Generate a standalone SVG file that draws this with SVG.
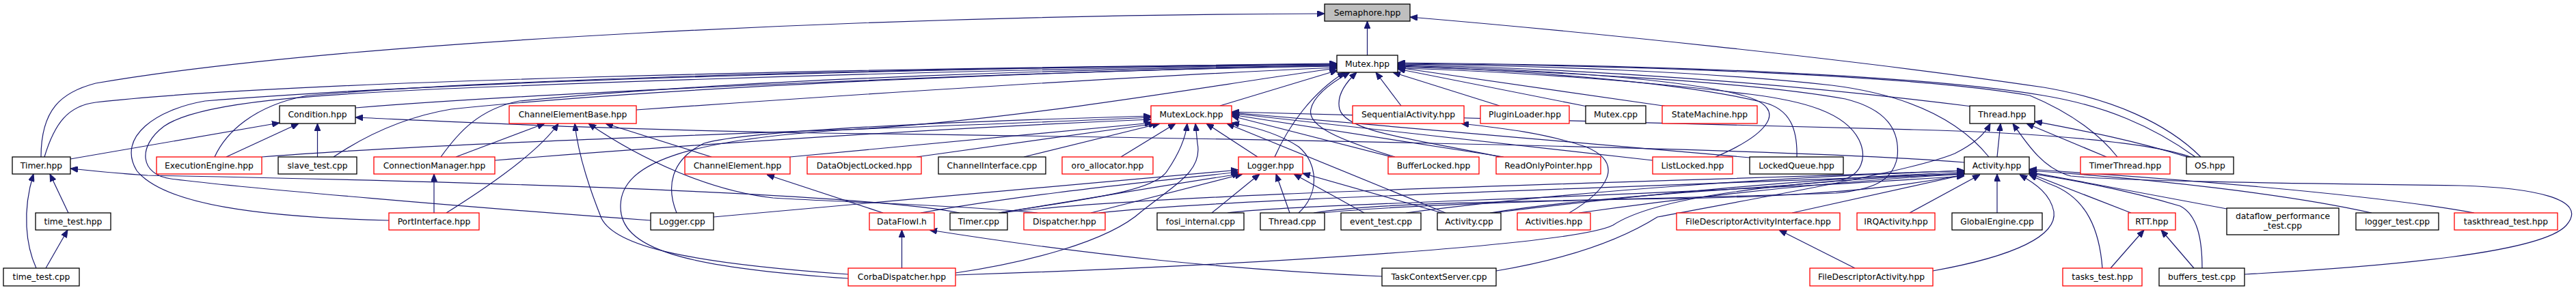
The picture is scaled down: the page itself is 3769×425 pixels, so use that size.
<svg xmlns="http://www.w3.org/2000/svg" width="3769" height="425" viewBox="0 0 3769 425">
<style>
.e path{fill:none;stroke:#191970;stroke-width:1.2;marker-end:url(#a)}
rect{fill:#fff;stroke:#000;stroke-width:1.3}
.r rect{stroke:#ff0000}
.g rect{fill:#bfbfbf}
text{font-family:"DejaVu Sans","Liberation Sans",sans-serif;font-size:12.3px;text-anchor:middle;fill:#000}
</style>
<defs>
<marker id="a" viewBox="0 0 11 9" refX="11" refY="4.5" markerWidth="11" markerHeight="9" markerUnits="userSpaceOnUse" orient="auto">
<path d="M0,0 L11,4.5 L0,9 z" fill="#191970" stroke="#191970" stroke-width="1"/>
</marker>
</defs>
<rect x="0" y="0" width="3769" height="425" style="fill:#fff;stroke:none"/>
<g id="edges" class="e">
<path d="M2000.5,81 L2000.5,31"/>
<path d="M60,230 C60,160 90,135 140,122 C500,60 1300,22 1938,20"/>
<path d="M3220,230 C3170,180 3090,145 2990,128 C2700,85 2300,45 2063,25"/>
<path d="M65,230 C80,180 100,155 140,150 C400,120 1200,100 1956,94"/>
<path d="M520,158 C800,135 1500,105 1956,96"/>
<path d="M314,230 C330,195 370,155 450,140 C800,110 1500,98 1956,95"/>
<path d="M488,230 C540,195 600,170 660,160 C1000,125 1600,102 1956,97"/>
<path d="M645,230 C670,195 700,160 760,148 C1100,115 1600,100 1956,96"/>
<path d="M569,323 C380,318 240,300 200,250 C170,200 230,160 300,148 C700,115 1500,98 1956,93"/>
<path d="M952,323 C700,305 350,275 250,262 C205,256 200,215 240,185 C290,150 450,138 700,128 C1200,108 1700,98 1956,94"/>
<path d="M931,161 C1300,135 1700,110 1956,99"/>
<path d="M1785,155 L1957,103"/>
<path d="M1865,230 C1885,185 1920,135 1968,106"/>
<path d="M2041,230 C1960,205 1912,185 1918,160 C1922,140 1950,120 1975,106"/>
<path d="M2195,230 C2080,205 1970,195 1960,160 C1955,140 1970,120 1985,106"/>
<path d="M2050,155 L2013,106"/>
<path d="M2194,155 L2038,106"/>
<path d="M2322,156 L2045,101"/>
<path d="M2440,156 L2045,99"/>
<path d="M2510,230 C2580,200 2625,160 2550,140 C2450,112 2200,100 2045,96"/>
<path d="M2629,230 C2630,190 2620,160 2580,150 C2450,118 2200,102 2045,97"/>
<path d="M2885,156 C2600,120 2300,100 2045,95"/>
<path d="M2910,230 C2870,180 2800,140 2680,125 C2500,105 2250,96 2045,94"/>
<path d="M3098,230 C3070,195 3030,165 2970,140 C2800,110 2400,96 2045,93"/>
<path d="M3212,230 C3150,185 3080,155 2990,140 C2800,108 2400,95 2045,92"/>
<path d="M2180,312 C2350,285 2600,275 2690,265 C2725,258 2732,230 2720,205 C2700,165 2640,148 2560,138 C2400,118 2200,104 2045,100"/>
<path d="M1935,312 C2100,295 2500,290 2686,283 C2740,278 2770,265 2776,230 C2780,190 2760,160 2700,145 C2550,118 2250,104 2045,98"/>
<path d="M103,233 L409,180"/>
<path d="M331,230 L437,181"/>
<path d="M464.5,230 L464.5,181"/>
<path d="M2874,238 C2600,215 1600,200 1200,195 C900,190 700,180 520,172"/>
<path d="M383,230 C700,205 1300,190 1684,172"/>
<path d="M724,235 C1100,205 1450,185 1684,175"/>
<path d="M1156,230 L1686,180"/>
<path d="M1341,230 L1692,181"/>
<path d="M1498,230 L1697,181"/>
<path d="M1640,230 L1720,181"/>
<path d="M1840,230 L1765,181"/>
<path d="M1461,312 C1600,290 1690,280 1708,250 C1725,225 1735,200 1737,181"/>
<path d="M1398,400 C1500,385 1620,355 1670,310 C1720,270 1760,250 1752,210 C1751,200 1750,190 1749,181"/>
<path d="M990,312 C975,275 980,235 1030,210 C1100,190 1400,178 1684,170"/>
<path d="M1241,408 C1000,392 905,365 908,300 C910,240 1000,205 1240,190 C1500,176 1800,120 1956,100"/>
<path d="M1900,312 C1930,285 1930,240 1900,215 C1870,195 1830,185 1802,180"/>
<path d="M2115,312 L1795,181"/>
<path d="M2036,230 L1802,170"/>
<path d="M2200,230 L1802,168"/>
<path d="M2418,235 L1802,166"/>
<path d="M2560,231 L1802,165"/>
<path d="M3205,230 C3150,210 3000,195 2800,190 C2400,182 2000,172 1802,164"/>
<path d="M1044,318 C1200,305 1500,275 1812,249"/>
<path d="M1347,312 C1500,285 1650,270 1812,252"/>
<path d="M1461,312 C1600,290 1700,272 1814,255"/>
<path d="M1596,312 L1818,255"/>
<path d="M1773,312 L1843,255"/>
<path d="M1887,312 L1867,255"/>
<path d="M1996,312 L1893,255"/>
<path d="M2110,312 L1906,254"/>
<path d="M2184,312 C2400,285 2650,262 2874,252"/>
<path d="M2310,312 C2500,285 2700,265 2874,255"/>
<path d="M2057,312 C2300,280 2600,260 2874,250"/>
<path d="M1922,312 C2000,298 2200,295 2500,290 C2700,285 2800,270 2874,256"/>
<path d="M1796,312 C1900,298 2400,290 2874,258"/>
<path d="M1608,312 C1800,290 2400,275 2874,254"/>
<path d="M1465,312 C1700,282 2400,268 2874,250"/>
<path d="M1398,403 C1800,390 2300,360 2360,330 C2420,290 2600,265 2874,255"/>
<path d="M2189,397 C2320,375 2390,340 2425,318 C2600,285 2800,250 2860,225 C2890,210 2905,195 2912,181"/>
<path d="M2622,312 L2874,256"/>
<path d="M2794,312 L2897,256"/>
<path d="M2922,312 L2922,255"/>
<path d="M2828,397 C2950,375 3010,345 3005,310 C3000,285 2980,270 2955,256"/>
<path d="M3118,312 L2969,254"/>
<path d="M3076,393 C3072,340 3055,290 3000,270 C2990,266 2980,261 2969,256"/>
<path d="M3222,393 C3222,350 3215,315 3190,302 C3100,275 3020,262 2969,254"/>
<path d="M3258,306 C3150,285 3050,268 2969,252"/>
<path d="M3470,312 C3350,285 3150,262 2969,250"/>
<path d="M3620,312 C3500,290 3300,270 2969,248"/>
<path d="M3284,402 C3500,390 3720,370 3755,330 C3790,290 3700,275 3600,272 C3300,268 3100,265 3030,258 C2990,248 2965,210 2945,181"/>
<path d="M2922,230 L2927,181"/>
<path d="M3082,230 L2965,181"/>
<path d="M3200,230 C3120,205 3050,192 2977,178"/>
<path d="M667,230 L797,181"/>
<path d="M653,312 C720,270 790,220 817,181"/>
<path d="M1241,402 C1000,385 900,360 880,320 C860,270 845,220 841,181"/>
<path d="M1518,312 C1400,300 1200,295 1131,290 C1040,280 940,235 861,181"/>
<path d="M1041,230 L886,181"/>
<path d="M1292,312 L1122,256"/>
<path d="M635,312 L635,255"/>
<path d="M100,312 L73,255"/>
<path d="M53,393 C38,360 32,310 49,255"/>
<path d="M1404,312 C1300,290 900,270 216,257 C170,254 130,250 103,247"/>
<path d="M67,393 L99,337"/>
<path d="M2296,312 C2350,280 2380,240 2320,215 C2260,195 2200,188 2138,181"/>
<path d="M1319.5,393 L1319.5,337"/>
<path d="M2022,405 C1800,395 1600,375 1360,337"/>
<path d="M3088,393 L3137,337"/>
<path d="M3210,393 L3162,337"/>
<path d="M2714,393 L2603,337"/>
</g>
<g id="semaphore_hpp" class="g"><rect x="1938" y="6" width="125" height="25"/><text x="2000.5" y="23">Semaphore.hpp</text></g>
<g id="mutex_hpp"><rect x="1956" y="81" width="89" height="25"/><text x="2000.5" y="98">Mutex.hpp</text></g>
<g id="condition_hpp"><rect x="409" y="155" width="111" height="26"/><text x="464.5" y="172">Condition.hpp</text></g>
<g id="channelelementbase_hpp" class="r"><rect x="745" y="155" width="186" height="26"/><text x="838" y="172">ChannelElementBase.hpp</text></g>
<g id="mutexlock_hpp" class="r"><rect x="1684" y="155" width="118" height="26"/><text x="1743" y="172">MutexLock.hpp</text></g>
<g id="sequentialactivity_hpp" class="r"><rect x="1979" y="155" width="163" height="26"/><text x="2060.5" y="172">SequentialActivity.hpp</text></g>
<g id="pluginloader_hpp" class="r"><rect x="2166" y="155" width="130" height="26"/><text x="2231" y="172">PluginLoader.hpp</text></g>
<g id="mutex_cpp"><rect x="2320" y="155" width="88" height="26"/><text x="2364" y="172">Mutex.cpp</text></g>
<g id="statemachine_hpp" class="r"><rect x="2432" y="155" width="139" height="26"/><text x="2501.5" y="172">StateMachine.hpp</text></g>
<g id="thread_hpp"><rect x="2882" y="155" width="95" height="26"/><text x="2929.5" y="172">Thread.hpp</text></g>
<g id="timer_hpp"><rect x="18" y="230" width="85" height="25"/><text x="60.5" y="247">Timer.hpp</text></g>
<g id="executionengine_hpp" class="r"><rect x="229" y="230" width="154" height="25"/><text x="306" y="247">ExecutionEngine.hpp</text></g>
<g id="slave_test_cpp"><rect x="407" y="230" width="115" height="25"/><text x="464.5" y="247">slave_test.cpp</text></g>
<g id="connectionmanager_hpp" class="r"><rect x="547" y="230" width="177" height="25"/><text x="635.5" y="247">ConnectionManager.hpp</text></g>
<g id="channelelement_hpp" class="r"><rect x="1002" y="230" width="154" height="25"/><text x="1079" y="247">ChannelElement.hpp</text></g>
<g id="dataobjectlocked_hpp" class="r"><rect x="1181" y="230" width="167" height="25"/><text x="1264.5" y="247">DataObjectLocked.hpp</text></g>
<g id="channelinterface_cpp"><rect x="1373" y="230" width="157" height="25"/><text x="1451.5" y="247">ChannelInterface.cpp</text></g>
<g id="oro_allocator_hpp" class="r"><rect x="1554" y="230" width="133" height="25"/><text x="1620.5" y="247">oro_allocator.hpp</text></g>
<g id="logger_hpp" class="r"><rect x="1812" y="230" width="94" height="25"/><text x="1859" y="247">Logger.hpp</text></g>
<g id="bufferlocked_hpp" class="r"><rect x="2031" y="230" width="133" height="25"/><text x="2097.5" y="247">BufferLocked.hpp</text></g>
<g id="readonlypointer_hpp" class="r"><rect x="2189" y="230" width="153" height="25"/><text x="2265.5" y="247">ReadOnlyPointer.hpp</text></g>
<g id="listlocked_hpp" class="r"><rect x="2418" y="230" width="117" height="25"/><text x="2476.5" y="247">ListLocked.hpp</text></g>
<g id="lockedqueue_hpp"><rect x="2560" y="230" width="137" height="25"/><text x="2628.5" y="247">LockedQueue.hpp</text></g>
<g id="activity_hpp"><rect x="2874" y="230" width="95" height="25"/><text x="2921.5" y="247">Activity.hpp</text></g>
<g id="timerthread_hpp" class="r"><rect x="3044" y="230" width="131" height="25"/><text x="3109.5" y="247">TimerThread.hpp</text></g>
<g id="os_hpp"><rect x="3199" y="230" width="69" height="25"/><text x="3233.5" y="247">OS.hpp</text></g>
<g id="time_test_hpp"><rect x="52" y="312" width="110" height="25"/><text x="107" y="329">time_test.hpp</text></g>
<g id="portinterface_hpp" class="r"><rect x="569" y="312" width="132" height="25"/><text x="635" y="329">PortInterface.hpp</text></g>
<g id="logger_cpp"><rect x="952" y="312" width="92" height="25"/><text x="998" y="329">Logger.cpp</text></g>
<g id="dataflowi_h" class="r"><rect x="1272" y="312" width="95" height="25"/><text x="1319.5" y="329">DataFlowI.h</text></g>
<g id="timer_cpp"><rect x="1390" y="312" width="84" height="25"/><text x="1432" y="329">Timer.cpp</text></g>
<g id="dispatcher_hpp" class="r"><rect x="1498" y="312" width="119" height="25"/><text x="1557.5" y="329">Dispatcher.hpp</text></g>
<g id="fosi_internal_cpp"><rect x="1693" y="312" width="127" height="25"/><text x="1756.5" y="329">fosi_internal.cpp</text></g>
<g id="thread_cpp"><rect x="1844" y="312" width="94" height="25"/><text x="1891" y="329">Thread.cpp</text></g>
<g id="event_test_cpp"><rect x="1962" y="312" width="117" height="25"/><text x="2020.5" y="329">event_test.cpp</text></g>
<g id="activity_cpp"><rect x="2103" y="312" width="93" height="25"/><text x="2149.5" y="329">Activity.cpp</text></g>
<g id="activities_hpp" class="r"><rect x="2220" y="312" width="107" height="25"/><text x="2273.5" y="329">Activities.hpp</text></g>
<g id="filedescriptoractivityinterface_hpp" class="r"><rect x="2453" y="312" width="239" height="25"/><text x="2572.5" y="329">FileDescriptorActivityInterface.hpp</text></g>
<g id="irqactivity_hpp" class="r"><rect x="2717" y="312" width="114" height="25"/><text x="2774" y="329">IRQActivity.hpp</text></g>
<g id="globalengine_cpp"><rect x="2856" y="312" width="132" height="25"/><text x="2922" y="329">GlobalEngine.cpp</text></g>
<g id="rtt_hpp" class="r"><rect x="3114" y="312" width="69" height="25"/><text x="3148.5" y="329">RTT.hpp</text></g>
<g id="dataflow_performance_test_cpp"><rect x="3258" y="305" width="164" height="39"/><text x="3340" y="321">dataflow_performance</text><text x="3340" y="335">_test.cpp</text></g>
<g id="logger_test_cpp"><rect x="3447" y="312" width="121" height="25"/><text x="3507.5" y="329">logger_test.cpp</text></g>
<g id="taskthread_test_hpp" class="r"><rect x="3591" y="312" width="151" height="25"/><text x="3666.5" y="329">taskthread_test.hpp</text></g>
<g id="time_test_cpp"><rect x="5" y="393" width="111" height="26"/><text x="60.5" y="410">time_test.cpp</text></g>
<g id="corbadispatcher_hpp" class="r"><rect x="1241" y="393" width="157" height="26"/><text x="1319.5" y="410">CorbaDispatcher.hpp</text></g>
<g id="taskcontextserver_cpp"><rect x="2022" y="393" width="167" height="26"/><text x="2105.5" y="410">TaskContextServer.cpp</text></g>
<g id="filedescriptoractivity_hpp" class="r"><rect x="2648" y="393" width="180" height="26"/><text x="2738" y="410">FileDescriptorActivity.hpp</text></g>
<g id="tasks_test_hpp" class="r"><rect x="3018" y="393" width="116" height="26"/><text x="3076" y="410">tasks_test.hpp</text></g>
<g id="buffers_test_cpp"><rect x="3159" y="393" width="125" height="26"/><text x="3221.5" y="410">buffers_test.cpp</text></g>
</svg>
